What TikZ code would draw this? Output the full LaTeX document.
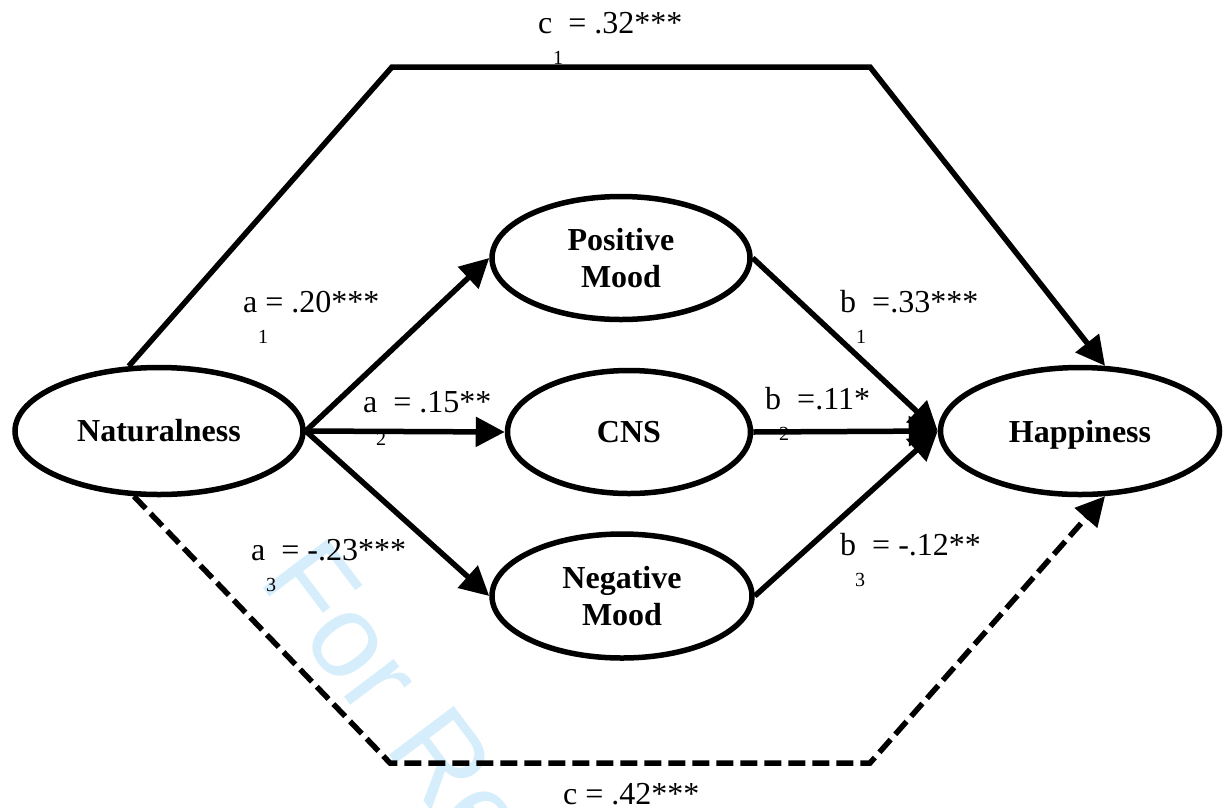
\documentclass[tikz,border=0pt]{standalone}
\usepackage{fontspec}
\setmainfont{Liberation Serif}
\newfontfamily\wmfont{Liberation Sans}
\usetikzlibrary{shapes.geometric,arrows.meta}
\definecolor{wmblue}{RGB}{214,238,251}
\begin{document}
\begin{tikzpicture}[x=1pt,y=-1pt,
  latent/.style={ellipse, draw, line width=5.5pt, inner sep=0pt,
    font=\fontsize{32}{37}\selectfont\bfseries, align=center},
  link/.style={line width=5.5pt, line join=miter,
    -{Triangle[length=29pt,width=29pt]}},
  dashlink/.style={link, dash pattern=on 17pt off 7pt},
  coef/.style={anchor=base west, inner sep=0pt, font=\fontsize{32}{37}\selectfont},
  subs/.style={anchor=base west, inner sep=0pt, font=\fontsize{20}{24}\selectfont},
]
\useasboundingbox (0,0) rectangle (1227,807);

% watermark
\begin{scope}
  \clip (0,0) rectangle (1227,807);
  \node[anchor=base west, rotate=-53, inner sep=0pt, text=wmblue,
        font=\wmfont\fontsize{118}{118}\selectfont] (wm) at (257,580) {For Re};
\end{scope}

% coefficient labels (subscripts sit below their letters)
\node[coef] (lc1) at (538,33) {c\ \ = .32***};
\node[subs] (lc1s) at (553,64) {1};
\node[coef] (la1) at (243,312) {a = .20***};
\node[subs] (la1s) at (258,343) {1};
\node[coef] (la2) at (363,412) {a\ \ = .15**};
\node[subs] (la2s) at (376,445) {2};
\node[coef] (la3) at (251,560) {a\ \ = -.23***};
\node[subs] (la3s) at (266,591) {3};
\node[coef] (lb1) at (840,312) {b\ \ =.33***};
\node[subs] (lb1s) at (856,343) {1};
\node[coef] (lb2) at (765,409) {b\ \ =.11*};
\node[subs] (lb2s) at (779,440) {2};
\node[coef] (lb3) at (840,555) {b\ \ = -.12**};
\node[subs] (lb3s) at (855,586) {3};
\node[coef] (lc) at (563,804) {c = .42***};

% variables
\node[latent, minimum width=288pt, minimum height=127pt] (nat) at (159,431) {Naturalness};
\node[latent, minimum width=258pt, minimum height=123pt] (pos) at (621,258) {Positive\\Mood};
\node[latent, minimum width=243pt, minimum height=123pt] (cns) at (629,432) {CNS};
\node[latent, minimum width=260pt, minimum height=124pt] (neg) at (622,596) {Negative\\Mood};
\node[latent, minimum width=279pt, minimum height=127pt, text depth=0pt] (hap) at (1080,431) {Happiness};

% indirect paths
\draw[link] (nat.east) -- (pos.west);
\draw[link] (nat.east) -- (cns.west);
\draw[link] (nat.east) -- (neg.west);
\draw[link] (pos.east) -- (hap.west);
\draw[link] (cns.east) -- (hap.west);
\draw[link] (neg.east) -- (hap.west);

% total and direct effects
\coordinate (tl) at (392,67);
\coordinate (tr) at (870,67);
\coordinate (bl) at (390,763);
\coordinate (br) at (870,763);
\draw[link] (nat.115) -- (tl) -- (tr) -- (hap.69);
\draw[dashlink] (nat.249) -- (bl) -- (br) -- (hap.291);
\end{tikzpicture}
\end{document}
